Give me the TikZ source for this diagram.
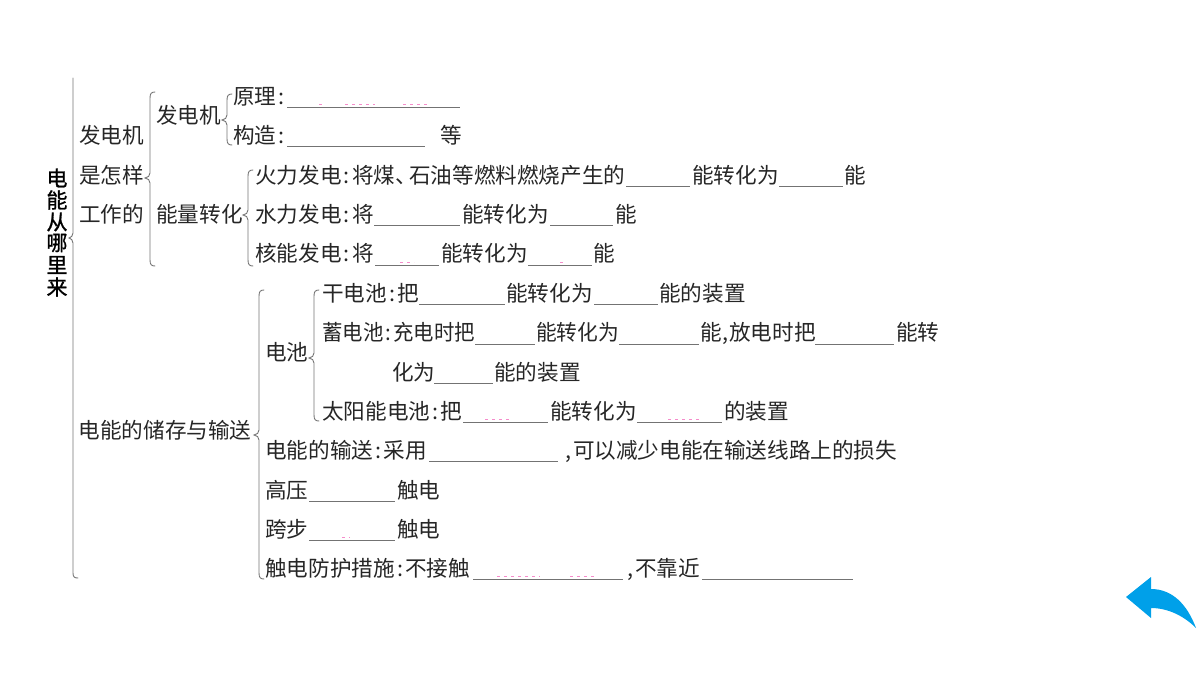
\documentclass[tikz,border=0pt]{standalone}
\usepackage{fontspec}
\usepackage{graphicx}
\setmainfont{Noto Sans CJK SC}
\newfontfamily\ttlfont[FakeBold=1.2]{Noto Sans CJK SC}
\newcommand{\cl}{\makebox[10.5pt][c]{:}}
\newcommand{\dn}{\makebox[14pt][l]{、}}
\newcommand{\cm}{\makebox[10pt][c]{,}}
\newcommand{\cmn}{\makebox[7.5pt][c]{,}}
\newcounter{tn}
\newcommand{\T}[3]{\stepcounter{tn}\node[txt] (t\thetn) at (#1,#2) {#3};}
\newcommand{\U}[3]{\draw[blank] (#1,#3) -- (#2,#3);}
\newcommand{\Pk}[3]{\draw[speck] (#1,#3) -- (#2,#3);}
\newcommand{\Br}[4]{% x, top, tip y, bottom
  \draw[brace] (#1+5,#2) .. controls (#1+1.5,#2) and (#1,#2+1.5) .. (#1,#2+6)
    -- (#1,#3-5) .. controls (#1,#3-2) and (#1-2,#3-0.5) .. (#1-5,#3)
    .. controls (#1-2,#3+0.5) and (#1,#3+2) .. (#1,#3+5)
    -- (#1,#4-6) .. controls (#1,#4-1.5) and (#1+1.5,#4) .. (#1+5,#4);}
\tikzset{
  txt/.style={anchor=west,inner sep=0pt,text height=19pt,text depth=2.6pt,font=\fontsize{21.6pt}{24pt}\selectfont,text=black!85},
  title/.style={inner sep=0pt,font=\fontsize{21pt}{22pt}\ttlfont,text=black},
  blank/.style={draw=black!55,line width=1pt},
  speck/.style={draw=magenta!45,line width=0.9pt,dash pattern=on 3pt off 4pt},
  brace/.style={draw=black!55,line width=0.9pt,line cap=round}
}
\begin{document}
\begin{tikzpicture}[x=1pt,y=-1pt]
\useasboundingbox (0,0) rectangle (1200,675);
% title
\node[title] (a1) at (57,178) {电};
\node[title] (a2) at (57,200) {能};
\node[title] (a3) at (57,222) {从};
\node[title] (a4) at (57,243) {哪};
\node[title] (a5) at (57,265) {里};
\node[title] (a6) at (57,287) {来};
% braces
\draw[brace] (73,78) -- (73,233) .. controls (73,236) and (71,237.5) .. (69,238)
  .. controls (71,238.5) and (73,240) .. (73,243) -- (73,573) .. controls (73,577) and (74.5,578) .. (78,578);
\Br{150}{92}{178}{266}
\Br{227}{94}{120}{145}
\Br{248}{170}{215}{266}
\Br{259}{290}{435}{579}
\Br{314}{290}{358}{421}
% level 1
\T{79}{135}{发电机}
\T{79}{175}{是怎样}
\T{79}{214}{工作的}
\T{78.5}{430}{电能的储存与输送}
% level 2
\T{156}{115}{发电机}
\T{156}{214}{能量转化}
\T{265}{352}{电池}
% rows
\T{233}{96}{原理\cl}
\U{287}{460}{107}
\Pk{319}{325}{104}\Pk{345}{375}{104}\Pk{403}{430}{104}
\T{233}{135}{构造\cl}
\U{287}{425}{146}
\T{440}{135}{等}
\T{255}{175}{火力发电\cl 将煤\dn 石油等燃料燃烧产生的}
\U{626}{690}{186}
\T{692}{175}{能转化为}
\U{779}{843}{186}
\T{844}{175}{能}
\T{255}{214}{水力发电\cl 将}
\U{374}{460}{225}
\T{462}{214}{能转化为}
\U{550}{613}{225}
\T{615}{214}{能}
\T{255}{253}{核能发电\cl 将}
\U{375}{439}{265}
\Pk{400}{414}{262}\Pk{560}{566}{262}
\T{441}{253}{能转化为}
\U{528}{592}{265}
\T{593}{253}{能}
\T{322}{293}{干电池\cl 把}
\U{419}{505}{304}
\T{506}{293}{能转化为}
\U{594}{658}{304}
\T{659}{293}{能的装置}
\T{322}{332}{\scalebox{0.945}[1]{蓄电池\cl 充电时把}}
\U{475}{535}{344}
\T{536}{332}{\scalebox{0.96}[1]{能转化为}}
\U{619}{699}{344}
\T{700}{332}{能\cmn 放电时把}
\U{815}{894}{344}
\T{896}{332}{能转}
\T{392}{372}{化为}
\U{434}{493}{383}
\T{494}{372}{能的装置}
\T{322}{411}{太阳能电池\cl 把}
\U{463}{548}{422}
\Pk{485}{510}{419}
\T{550}{411}{能转化为}
\U{637}{722}{422}
\Pk{668}{700}{419}
\T{724}{411}{的装置}
\T{265}{450}{电能的输送\cl 采用}
\U{429}{558}{461}
\T{563}{450}{\cm 可以减少电能在输送线路上的损失}
\T{265}{490}{高压}
\U{309}{395}{501}
\T{397}{490}{触电}
\T{265}{529}{跨步}
\U{309}{395}{540}
\Pk{342}{350}{537}
\T{397}{529}{触电}
\T{265}{568}{触电防护措施\cl 不接触}
\U{473}{623}{579}
\Pk{497}{540}{576}\Pk{570}{596}{576}
\T{625}{568}{\cm 不靠近}
\U{702}{853}{579}
% return arrow
\definecolor{backblue}{HTML}{00A0E9}
\fill[backblue] (1126,597) -- (1151,577) -- (1151,589)
  .. controls (1172,589) and (1187,604) .. (1196,628)
  .. controls (1184,616) and (1168,608) .. (1151,608)
  -- (1151,618) -- cycle;
\end{tikzpicture}
\end{document}
